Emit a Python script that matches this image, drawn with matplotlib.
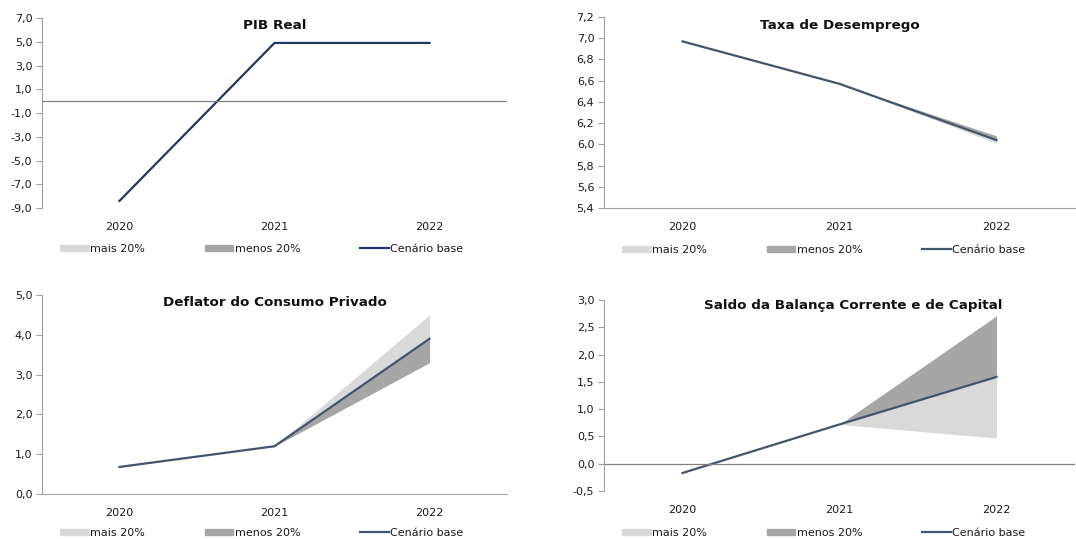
import matplotlib.pyplot as plt
from matplotlib.patches import Patch
from matplotlib.lines import Line2D
from matplotlib.ticker import FuncFormatter

anos = ['2020', '2021', '2022']

# PIB Real
pib_base = [-8.4, 4.9, 4.9]
pib_mais = [-8.4, 4.9, 4.85]
pib_menos = [-8.4, 4.9, 4.97]

# Taxa de Desemprego
desemp_base = [6.97, 6.57, 6.04]
desemp_mais = [6.97, 6.57, 6.01]
desemp_menos = [6.97, 6.57, 6.08]

# Deflator do Consumo Privado
defl_base = [0.68, 1.2, 3.9]
defl_mais = [0.68, 1.2, 4.5]
defl_menos = [0.68, 1.2, 3.3]

# Saldo da Balança Corrente e de Capital
saldo_base = [-0.17, 0.72, 1.59]
saldo_mais = [-0.17, 0.72, 0.47]
saldo_menos = [-0.17, 0.72, 2.71]

c_mais = '#D9D9D9'
c_menos = '#A6A6A6'
c_eixo = '#A0A0A0'

plt.rcParams['font.family'] = ['DejaVu Sans']

W, H = 1076, 539
fig = plt.figure(figsize=(W / 100, H / 100), dpi=100)

# titulo, base, mais, menos, ylim, passo, cor, (esq, topo, dir, baixo) px, linha zero,
# titulo x, titulo y, legenda x, legenda dy px
paineis = [
    ('PIB Real', pib_base, pib_mais, pib_menos, (-9, 7), 2.0, '#1F3864',
     (42, 18, 507, 208), True, 0.5, 0.958, 0.472, 41),
    ('Taxa de Desemprego', desemp_base, desemp_mais, desemp_menos, (5.4, 7.2), 0.2, '#44546A',
     (604, 17, 1075, 208), False, 0.5, 0.953, 0.466, 42),
    ('Deflator do Consumo Privado', defl_base, defl_mais, defl_menos, (0, 5), 1.0, '#44546A',
     (42, 295, 507, 494), False, 0.5, 0.96, 0.472, 39),
    ('Saldo da Balança Corrente e de Capital', saldo_base, saldo_mais, saldo_menos, (-0.5, 3), 0.5, '#44546A',
     (604, 300, 1075, 491), True, 0.529, 0.97, 0.466, 42),
]

fmt = FuncFormatter(lambda v, p: ('%.1f' % v).replace('.', ','))

for titulo, base, mais, menos, ylim, passo, cor, px, linha_zero, tx, ty, lx, dy in paineis:
    esq, topo, dir_, baixo = px
    ax = fig.add_axes([esq / W, 1 - baixo / H, (dir_ - esq) / W, (baixo - topo) / H])
    x = range(len(anos))
    ax.fill_between(x, base, mais, color=c_mais, linewidth=0)
    ax.fill_between(x, base, menos, color=c_menos, linewidth=0)
    ax.plot(x, base, color=cor, linewidth=1.6)
    ax.set_xlim(-0.5, 2.5)
    ax.set_ylim(*ylim)
    n = int(round((ylim[1] - ylim[0]) / passo))
    ax.set_yticks([ylim[0] + i * passo for i in range(n + 1)])
    ax.yaxis.set_major_formatter(fmt)
    ax.set_xticks(list(x))
    ax.set_xticklabels(anos)
    for s in ['top', 'right']:
        ax.spines[s].set_visible(False)
    ax.spines['left'].set_color(c_eixo)
    if linha_zero:
        ax.spines['bottom'].set_visible(False)
        ax.axhline(0, color='#808080', linewidth=0.9)
    else:
        ax.spines['bottom'].set_color(c_eixo)
    ax.tick_params(axis='y', length=4, color=c_eixo, labelsize=8, pad=3, labelcolor='#1a1a1a')
    ax.tick_params(axis='x', length=0, labelsize=8, pad=10, labelcolor='#1a1a1a')
    ax.text(tx, ty, titulo, transform=ax.transAxes, ha='center', va='center',
            fontsize=9.7, fontweight='bold', color='#111111')
    handles = [Patch(color=c_mais), Patch(color=c_menos), Line2D([0], [0], color=cor, linewidth=1.6)]
    ax.legend(handles, ['mais 20%', 'menos 20%', 'Cenário base'], ncol=3,
              loc='center', bbox_to_anchor=(lx, -dy / (baixo - topo)), frameon=False,
              fontsize=8, handlelength=2.6, handleheight=0.55, handletextpad=0.1,
              columnspacing=5.4, labelcolor='#1a1a1a', borderpad=0)

fig.savefig('out.png', dpi=100)
